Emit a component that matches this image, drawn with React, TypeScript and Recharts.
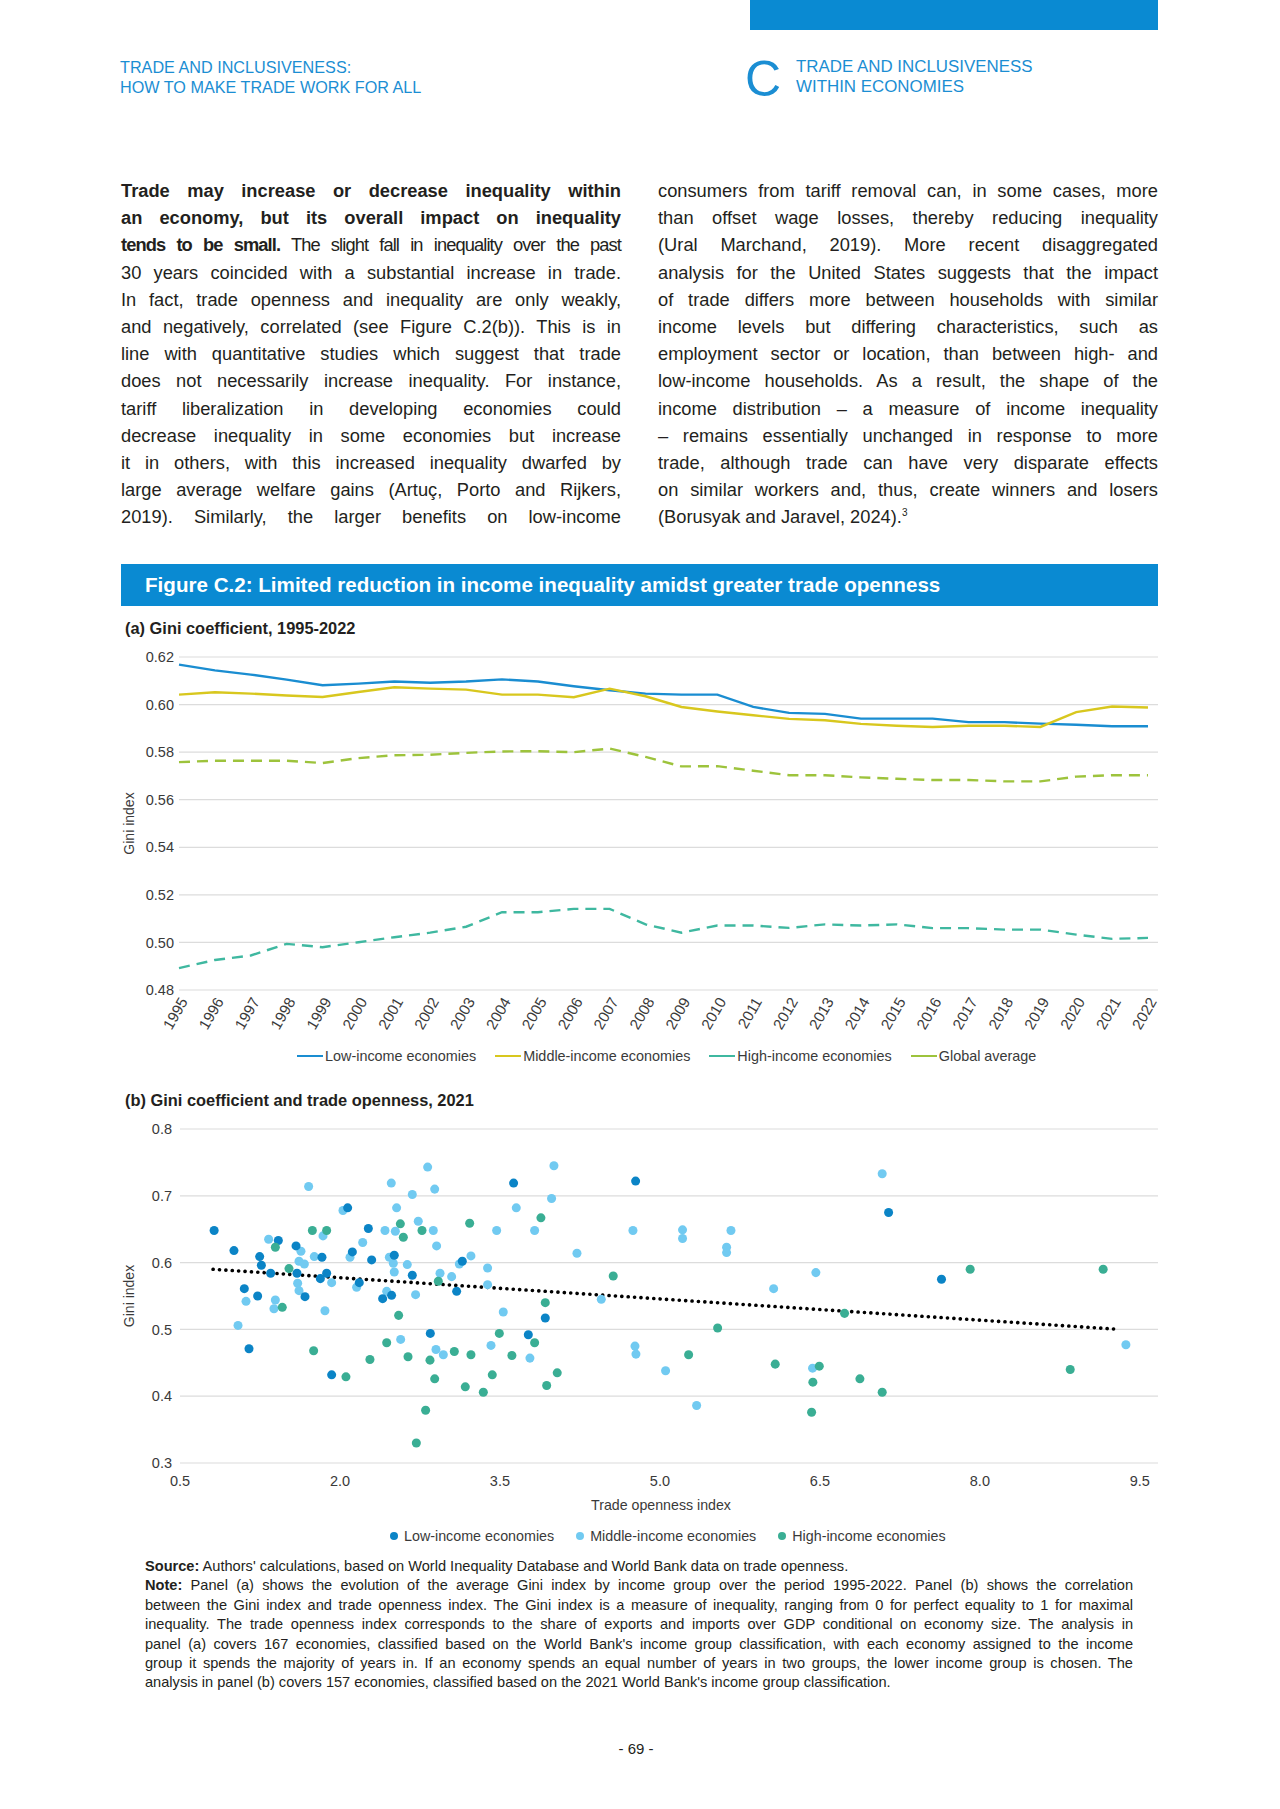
import React from "react";
import {
  CartesianGrid,
  Label,
  Line,
  LineChart,
  ReferenceLine,
  Scatter,
  ScatterChart,
  XAxis,
  YAxis,
  ZAxis,
} from "recharts";

const FONT = '"Liberation Sans", Arial, Helvetica, sans-serif';
const BLUE = "#0a8ad2";
const TEXT = "#231f20";
const AXIS_TEXT = "#3a3a3a";

// ---- panel (a): Gini by income group, 1995-2022
const years = [
  "1995", "1996", "1997", "1998", "1999", "2000", "2001", "2002", "2003", "2004",
  "2005", "2006", "2007", "2008", "2009", "2010", "2011", "2012", "2013", "2014",
  "2015", "2016", "2017", "2018", "2019", "2020", "2021", "2022",
];
const lowIncome = [
  0.6168, 0.6144, 0.6126, 0.6105, 0.6081, 0.6088, 0.6097, 0.6092, 0.6097, 0.6106,
  0.6097, 0.6077, 0.606, 0.6046, 0.6042, 0.6042, 0.599, 0.5965, 0.5961, 0.5941,
  0.5941, 0.5941, 0.5926, 0.5926, 0.592, 0.5915, 0.5909, 0.5909,
];
const middleIncome = [
  0.6042, 0.6052, 0.6046, 0.6038, 0.6032, 0.6053, 0.6073, 0.6067, 0.6063, 0.6042,
  0.6042, 0.6031, 0.6067, 0.6035, 0.599, 0.5971, 0.5955, 0.594, 0.5934, 0.5919,
  0.5911, 0.5906, 0.5911, 0.5911, 0.5906, 0.5968, 0.5992, 0.5988,
];
const highIncome = [
  0.4892, 0.4926, 0.4945, 0.4994, 0.498, 0.5001, 0.5022, 0.5041, 0.5066, 0.5127,
  0.5127, 0.5141, 0.5141, 0.5076, 0.5041, 0.5071, 0.5071, 0.5061, 0.5076, 0.5071,
  0.5076, 0.506, 0.506, 0.5054, 0.5054, 0.5033, 0.5015, 0.5019,
];
const globalAverage = [
  0.5758, 0.5764, 0.5764, 0.5764, 0.5754, 0.5775, 0.5787, 0.5789, 0.5797, 0.5803,
  0.5804, 0.58, 0.5815, 0.578, 0.574, 0.5741, 0.5722, 0.5703, 0.5703, 0.5694,
  0.5688, 0.5683, 0.5683, 0.5677, 0.5677, 0.5697, 0.5703, 0.5703,
];
const giniTicksA = [0.48, 0.5, 0.52, 0.54, 0.56, 0.58, 0.6, 0.62];

// ---- panel (b): [trade openness, gini] in 2021
const lowIncomePoints: [number, number][] = [
  [0.82, 0.648], [1.006, 0.618], [1.103, 0.561], [1.147, 0.471], [1.228, 0.55],
  [1.247, 0.609], [1.263, 0.596], [1.422, 0.633], [1.35, 0.584], [1.588, 0.625],
  [1.597, 0.584], [1.672, 0.549], [1.831, 0.608], [1.816, 0.576], [1.875, 0.584],
  [1.922, 0.432], [2.072, 0.682], [2.116, 0.616], [2.181, 0.57], [2.266, 0.651],
  [2.297, 0.604], [2.4, 0.546], [2.484, 0.551], [2.509, 0.611], [2.678, 0.581],
  [3.628, 0.719], [4.772, 0.722], [3.147, 0.602], [3.094, 0.557], [2.847, 0.494],
  [3.766, 0.492], [3.925, 0.517], [7.144, 0.675], [7.64, 0.575],
];
const middleIncomePoints: [number, number][] = [
  [1.119, 0.542], [1.044, 0.506], [1.331, 0.635], [1.394, 0.544], [1.381, 0.531],
  [1.634, 0.617], [1.616, 0.602], [1.666, 0.598], [1.603, 0.569], [1.616, 0.558],
  [1.706, 0.714], [1.759, 0.609], [1.841, 0.64], [1.922, 0.57], [1.859, 0.528],
  [2.028, 0.678], [2.094, 0.608], [2.213, 0.63], [2.156, 0.563], [2.422, 0.648],
  [2.438, 0.557], [2.481, 0.719], [2.531, 0.682], [2.519, 0.647], [2.463, 0.608],
  [2.5, 0.599], [2.509, 0.586], [2.569, 0.485], [2.678, 0.702], [2.631, 0.597],
  [2.709, 0.552], [2.822, 0.743], [2.888, 0.71], [2.734, 0.662], [2.875, 0.648],
  [2.906, 0.625], [3.469, 0.648], [3.653, 0.682], [4.006, 0.745], [3.984, 0.696],
  [3.825, 0.648], [4.747, 0.648], [5.212, 0.649], [5.212, 0.636], [4.222, 0.614],
  [4.45, 0.545], [2.938, 0.584], [3.047, 0.579], [3.119, 0.598], [3.228, 0.61],
  [3.384, 0.592], [3.384, 0.567], [2.9, 0.47], [2.969, 0.462], [3.416, 0.476],
  [3.531, 0.526], [3.781, 0.457], [4.766, 0.475], [4.775, 0.463], [5.053, 0.438],
  [5.344, 0.386], [5.666, 0.648], [5.625, 0.623], [5.625, 0.615], [7.084, 0.733],
  [6.462, 0.585], [6.066, 0.561], [6.431, 0.442], [9.369, 0.477],
];
const highIncomePoints: [number, number][] = [
  [1.394, 0.623], [1.459, 0.533], [1.522, 0.591], [1.741, 0.648], [1.753, 0.468],
  [1.875, 0.648], [2.056, 0.429], [2.281, 0.455], [2.566, 0.658], [2.594, 0.638],
  [2.55, 0.521], [2.438, 0.48], [2.638, 0.459], [2.716, 0.33], [2.769, 0.648],
  [3.216, 0.659], [3.884, 0.667], [4.562, 0.58], [2.922, 0.572], [3.072, 0.467],
  [3.228, 0.462], [2.844, 0.454], [2.888, 0.426], [2.803, 0.379], [3.175, 0.414],
  [3.344, 0.406], [3.428, 0.432], [3.494, 0.494], [3.612, 0.461], [3.825, 0.48],
  [3.925, 0.54], [4.037, 0.435], [3.938, 0.416], [5.269, 0.462], [7.909, 0.59],
  [9.156, 0.59], [6.731, 0.524], [5.541, 0.502], [6.081, 0.448], [6.494, 0.445],
  [6.434, 0.421], [6.875, 0.426], [7.084, 0.406], [6.422, 0.376], [8.847, 0.44],
];
const trendStart = { x: 0.81, y: 0.59 };
const trendEnd = { x: 9.31, y: 0.5 };
const opennessTicks = [0.5, 2.0, 3.5, 5.0, 6.5, 8.0, 9.5];
const giniTicksB = [0.3, 0.4, 0.5, 0.6, 0.7, 0.8];

const COLORS = {
  low: "#1a8dd1",
  middle: "#d8c71e",
  high: "#3fb8a0",
  global: "#9dc33c",
  lowDot: "#0b84c6",
  middleDot: "#71caf1",
  highDot: "#3aae94",
};

const lineData = years.map((year, i) => ({
  year,
  low: lowIncome[i],
  middle: middleIncome[i],
  high: highIncome[i],
  global: globalAverage[i],
}));
const toXY = (pts: [number, number][]) => pts.map(([x, y]) => ({ x, y }));

const leftLines: React.ReactNode[] = [
  <b>Trade may increase or decrease inequality within</b>,
  <b>an economy, but its overall impact on inequality</b>,
  <span style={{ letterSpacing: -0.9, wordSpacing: -3 }}>
    <b>tends to be small.</b> The slight fall in inequality over the past
  </span>,
  "30 years coincided with a substantial increase in trade.",
  "In fact, trade openness and inequality are only weakly,",
  "and negatively, correlated (see Figure C.2(b)). This is in",
  "line with quantitative studies which suggest that trade",
  "does not necessarily increase inequality. For instance,",
  "tariff liberalization in developing economies could",
  "decrease inequality in some economies but increase",
  "it in others, with this increased inequality dwarfed by",
  "large average welfare gains (Artuç, Porto and Rijkers,",
  "2019). Similarly, the larger benefits on low-income",
];
const rightLines: React.ReactNode[] = [
  "consumers from tariff removal can, in some cases, more",
  "than offset wage losses, thereby reducing inequality",
  "(Ural Marchand, 2019). More recent disaggregated",
  "analysis for the United States suggests that the impact",
  "of trade differs more between households with similar",
  "income levels but differing characteristics, such as",
  "employment sector or location, than between high- and",
  "low-income households. As a result, the shape of the",
  "income distribution – a measure of income inequality",
  "– remains essentially unchanged in response to more",
  "trade, although trade can have very disparate effects",
  "on similar workers and, thus, create winners and losers",
];

const noteLines: string[] = [
  "Panel (a) shows the evolution of the average Gini index by income group over the period 1995-2022. Panel (b) shows the correlation",
  "between the Gini index and trade openness index. The Gini index is a measure of inequality, ranging from 0 for perfect equality to 1 for maximal",
  "inequality. The trade openness index corresponds to the share of exports and imports over GDP conditional on economy size. The analysis in",
  "panel (a) covers 167 economies, classified based on the World Bank's income group classification, with each economy assigned to the income",
  "group it spends the majority of years in. If an economy spends an equal number of years in two groups, the lower income group is chosen. The",
];

function JLine({ children, last }: { children: React.ReactNode; last?: boolean }) {
  return (
    <div style={{ textAlign: last ? "left" : "justify", textAlignLast: last ? "left" : "justify" }}>
      {children}
    </div>
  );
}

function YTitle(props: any) {
  const { x, y, height } = props.viewBox;
  const cx = x + 29;
  const cy = y + height / 2;
  return (
    <text
      x={cx}
      y={cy}
      transform={`rotate(-90 ${cx} ${cy})`}
      textAnchor="middle"
      dominantBaseline="central"
      fontSize={14}
      fill={AXIS_TEXT}
      fontFamily={FONT}
    >
      Gini index
    </text>
  );
}

function XTitle(props: any) {
  const { x, y } = props.viewBox;
  return (
    <text x={x + 481} y={y + 42} textAnchor="middle" dominantBaseline="central" fontSize={14.2} fill={AXIS_TEXT} fontFamily={FONT}>
      Trade openness index
    </text>
  );
}

function GiniTrend() {
  const tick = { fontSize: 14.5, fill: AXIS_TEXT, fontFamily: FONT };
  return (
    <LineChart width={1080} height={400} data={lineData} margin={{ top: 17, right: 22, left: 0, bottom: 0 }}>
      <CartesianGrid vertical={false} stroke="#dcdcdc" strokeWidth={1.2} />
      <XAxis
        dataKey="year"
        scale="point"
        padding={{ left: 0, right: 10 }}
        axisLine={false}
        tickLine={false}
        tickSize={0}
        tickMargin={6}
        interval={0}
        angle={-60}
        textAnchor="end"
        height={50}
        tick={{ ...tick, fontSize: 15.2 }}
      />
      <YAxis
        domain={[0.48, 0.62]}
        ticks={giniTicksA}
        tickFormatter={(v: number) => v.toFixed(2)}
        width={79}
        axisLine={false}
        tickLine={false}
        tickSize={0}
        tickMargin={5}
        tick={tick}
      >
        <Label content={YTitle} />
      </YAxis>
      <Line dataKey="low" stroke={COLORS.low} strokeWidth={2.4} dot={false} isAnimationActive={false} />
      <Line dataKey="middle" stroke={COLORS.middle} strokeWidth={2.4} dot={false} isAnimationActive={false} />
      <Line dataKey="high" stroke={COLORS.high} strokeWidth={2.4} strokeDasharray="11 7" dot={false} isAnimationActive={false} />
      <Line dataKey="global" stroke={COLORS.global} strokeWidth={2.4} strokeDasharray="11 7" dot={false} isAnimationActive={false} />
    </LineChart>
  );
}

function GiniOpenness() {
  const tick = { fontSize: 14.5, fill: AXIS_TEXT, fontFamily: FONT };
  return (
    <ScatterChart width={1080} height={405} margin={{ top: 19, right: 22, left: 0, bottom: 0 }}>
      <CartesianGrid vertical={false} stroke="#dcdcdc" strokeWidth={1.2} />
      <XAxis
        type="number"
        dataKey="x"
        domain={[0.5, 9.67]}
        ticks={opennessTicks}
        tickFormatter={(v: number) => v.toFixed(1)}
        axisLine={false}
        tickLine={false}
        tickSize={0}
        tickMargin={13}
        height={52}
        tick={tick}
      >
        <Label content={XTitle} />
      </XAxis>
      <YAxis
        type="number"
        dataKey="y"
        domain={[0.3, 0.8]}
        ticks={giniTicksB}
        tickFormatter={(v: number) => v.toFixed(1)}
        width={80}
        axisLine={false}
        tickLine={false}
        tickSize={0}
        tickMargin={8}
        tick={tick}
      >
        <Label content={YTitle} />
      </YAxis>
      <ZAxis range={[135, 135]} />
      <Scatter data={toXY(middleIncomePoints)} fill={COLORS.middleDot} isAnimationActive={false} />
      <Scatter data={toXY(lowIncomePoints)} fill={COLORS.lowDot} isAnimationActive={false} />
      <Scatter data={toXY(highIncomePoints)} fill={COLORS.highDot} isAnimationActive={false} />
      <ReferenceLine
        segment={[trendStart, trendEnd]}
        stroke="#000"
        strokeWidth={3.6}
        strokeDasharray="0.1 6.3"
        strokeLinecap="round"
      />
    </ScatterChart>
  );
}

const lineLegend = [
  { name: "Low-income economies", color: COLORS.low },
  { name: "Middle-income economies", color: COLORS.middle },
  { name: "High-income economies", color: COLORS.high },
  { name: "Global average", color: COLORS.global },
];
const dotLegend = [
  { name: "Low-income economies", color: COLORS.lowDot },
  { name: "Middle-income economies", color: COLORS.middleDot },
  { name: "High-income economies", color: COLORS.highDot },
];

export default function App() {
  const abs = (left: number, top: number, extra?: React.CSSProperties): React.CSSProperties => ({
    position: "absolute",
    left,
    top,
    ...extra,
  });
  return (
    <div style={{ position: "absolute", left: 0, top: 0, width: 1280, height: 1809, background: "#fff", fontFamily: FONT, color: TEXT, overflow: "hidden" }}>
      {/* header */}
      <div style={abs(750, 0, { width: 408, height: 30, background: BLUE })} />
      <div style={abs(120, 57, { fontSize: 16.2, lineHeight: "20px", color: "#1b8ed3" })}>
        <div>TRADE AND INCLUSIVENESS:</div>
        <div>HOW TO MAKE TRADE WORK FOR ALL</div>
      </div>
      <div style={abs(745, 55, { fontSize: 50, lineHeight: "48px", color: "#1b8ed3" })}>C</div>
      <div style={abs(796, 57, { fontSize: 16.9, lineHeight: "20px", color: "#1b8ed3" })}>
        <div>TRADE AND INCLUSIVENESS</div>
        <div>WITHIN ECONOMIES</div>
      </div>

      {/* body text */}
      <div style={abs(121, 177, { width: 500, fontSize: 18.3, lineHeight: "27.2px" })}>
        {leftLines.map((l, i) => (
          <JLine key={i}>{l}</JLine>
        ))}
      </div>
      <div style={abs(658, 177, { width: 500, fontSize: 18.3, lineHeight: "27.2px" })}>
        {rightLines.map((l, i) => (
          <JLine key={i}>{l}</JLine>
        ))}
        <JLine last>
          (Borusyak and Jaravel, 2024).<sup style={{ fontSize: 10, lineHeight: 0 }}>3</sup>
        </JLine>
      </div>

      {/* figure title */}
      <div style={abs(121, 564, { width: 1037, height: 42, background: BLUE, color: "#fff", fontWeight: 700, fontSize: 20.6, lineHeight: "42px", paddingLeft: 24, boxSizing: "border-box" })}>
        Figure C.2: Limited reduction in income inequality amidst greater trade openness
      </div>

      {/* panel (a) */}
      <div style={abs(125, 619, { fontSize: 16.4, fontWeight: 700, lineHeight: "18px" })}>(a) Gini coefficient, 1995-2022</div>
      <div style={abs(100, 640)}>
        <GiniTrend />
      </div>
      <div style={abs(297, 1047, { display: "flex", gap: 19, fontSize: 14.4, lineHeight: "18px", color: AXIS_TEXT })}>
        {lineLegend.map((d) => (
          <div key={d.name} style={{ display: "flex", alignItems: "center" }}>
            <span style={{ display: "inline-block", width: 26, height: 2.5, background: d.color, marginRight: 2 }} />
            {d.name}
          </div>
        ))}
      </div>

      {/* panel (b) */}
      <div style={abs(125, 1091, { fontSize: 16.4, fontWeight: 700, lineHeight: "18px" })}>(b) Gini coefficient and trade openness, 2021</div>
      <div style={abs(100, 1110)}>
        <GiniOpenness />
      </div>
      <div style={abs(390, 1527, { display: "flex", gap: 22, fontSize: 14.3, lineHeight: "18px", color: AXIS_TEXT })}>
        {dotLegend.map((d) => (
          <div key={d.name} style={{ display: "flex", alignItems: "center" }}>
            <span style={{ display: "inline-block", width: 8, height: 8, borderRadius: 4, background: d.color, marginRight: 6 }} />
            {d.name}
          </div>
        ))}
      </div>

      {/* source and note */}
      <div style={abs(145, 1557, { width: 988, fontSize: 14.6, lineHeight: "19.4px" })}>
        <JLine last>
          <b>Source:</b> Authors' calculations, based on World Inequality Database and World Bank data on trade openness.
        </JLine>
        {noteLines.map((l, i) => (
          <JLine key={i}>
            {i === 0 ? (
              <>
                <b>Note:</b> {l}
              </>
            ) : (
              l
            )}
          </JLine>
        ))}
        <JLine last>
          analysis in panel (b) covers 157 economies, classified based on the 2021 World Bank's income group classification.
        </JLine>
      </div>

      <div style={abs(560, 1740, { width: 152, textAlign: "center", fontSize: 15, lineHeight: "18px" })}>- 69 -</div>
    </div>
  );
}
